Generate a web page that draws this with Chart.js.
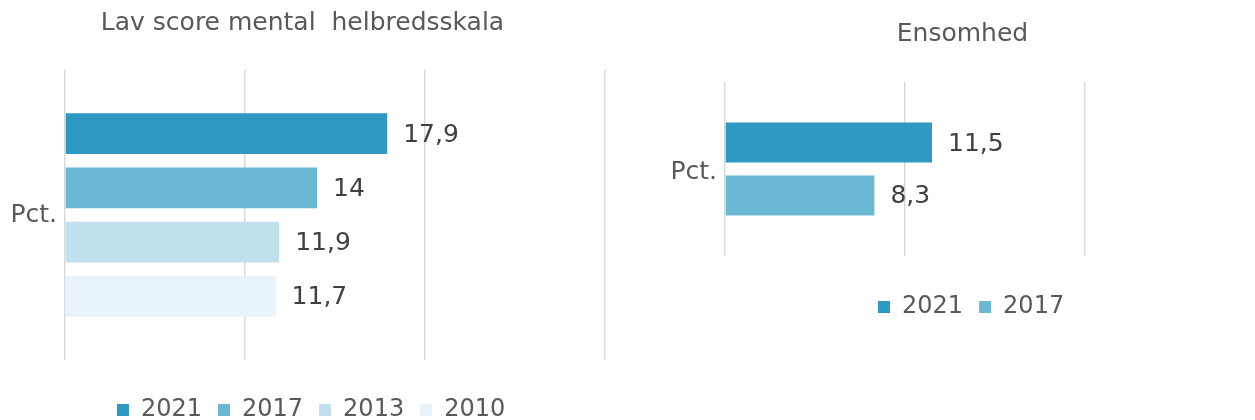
<!DOCTYPE html>
<html>
<head>
<meta charset="utf-8">
<script src="https://cdn.jsdelivr.net/npm/chart.js@4.4.1/dist/chart.umd.min.js"></script>
<style>
html, body { margin: 0; padding: 0; background: #fff; overflow: hidden; width: 1255px; height: 420px; position: relative; }
canvas { position: absolute; top: 0; }
</style>
</head>
<body>
<canvas id="mental" width="607" height="432" style="left:0px"></canvas>
<canvas id="lonely" width="645" height="329" style="left:610px"></canvas>
<script>
// ---- data ----
const categories = ['Pct.'];
const mentalTitle = 'Lav score mental  helbredsskala';
const mentalYears = ['2021', '2017', '2013', '2010'];
const mentalValues = [17.9, 14, 11.9, 11.7];
const lonelyTitle = 'Ensomhed';
const lonelyYears = ['2021', '2017'];
const lonelyValues = [11.5, 8.3];
const mentalAxisMax = 30;
const lonelyAxisMax = 20;
const axisStep = 10;

// ---- style ----
const yearColors = ['#2E9AC4', '#6BB8D4', '#C1E0EE', '#E8F4F9'];
Chart.defaults.font.family = '"DejaVu Sans", Verdana, sans-serif';

const valueLabels = {
  id: 'valueLabels',
  afterDatasetsDraw(chart, args, o) {
    const ctx = chart.ctx;
    ctx.save();
    ctx.font = o.font;
    ctx.fillStyle = o.color;
    ctx.textBaseline = 'middle';
    ctx.textAlign = 'left';
    chart.data.datasets.forEach((ds, i) => {
      chart.getDatasetMeta(i).data.forEach((el, j) => {
        ctx.fillText(String(ds.data[j]).replace('.', ','), el.x + o.offset, el.y + o.dy);
      });
    });
    ctx.restore();
  }
};

const shiftBoxes = {
  id: 'shiftBoxes',
  afterLayout(chart, args, o) {
    if (chart.titleBlock) { chart.titleBlock.left += o.title; chart.titleBlock.right += o.title; }
    if (chart.legend) { chart.legend.left += o.legend; chart.legend.right += o.legend; }
  }
};

function makeChart(id, title, years, values, max, o) {
  return new Chart(document.getElementById(id), {
    type: 'bar',
    data: {
      labels: categories,
      datasets: years.map((y, i) => ({
        label: y,
        data: [values[i]],
        backgroundColor: yearColors[i],
        borderWidth: 0,
        categoryPercentage: o.cp,
        barPercentage: o.bp
      }))
    },
    options: {
      indexAxis: 'y',
      responsive: false,
      animation: false,
      events: [],
      layout: { padding: { left: 0, right: o.padRight, top: 0, bottom: 0 } },
      scales: {
        x: {
          min: 0, max: max,
          ticks: { display: false, stepSize: axisStep },
          grid: { color: '#d9d9d9', lineWidth: 1.5, drawTicks: false },
          border: { display: false },
          afterFit: s => { s.height = o.xGap; }
        },
        y: {
          grid: { display: false, drawTicks: false },
          border: { display: false },
          ticks: { color: '#595959', font: { size: 25 }, padding: 8, labelOffset: o.pctOffset },
          afterFit: s => { s.width = o.yWidth; }
        }
      },
      plugins: {
        title: {
          display: true, text: title, color: '#595959',
          font: { size: 25, weight: 'normal' },
          padding: { top: o.titleTop, bottom: o.titleBottom }
        },
        legend: {
          display: true, position: 'bottom',
          labels: { boxWidth: 12, boxHeight: 12, padding: 16, color: '#595959', font: { size: 24 } }
        },
        tooltip: { enabled: false },
        valueLabels: { font: '25px "DejaVu Sans"', color: '#404040', offset: 16, dy: 1.5 },
        shiftBoxes: { title: o.titleShift, legend: o.legendShift }
      }
    },
    plugins: [valueLabels, shiftBoxes]
  });
}

makeChart('mental', mentalTitle, mentalYears, mentalValues, mentalAxisMax, {
  cp: 0.748, bp: 0.75, padRight: 2, yWidth: 65, xGap: 22, pctOffset: 0,
  titleTop: 8, titleBottom: 32, titleShift: 0, legendShift: 8.6
});
makeChart('lonely', lonelyTitle, lonelyYears, lonelyValues, lonelyAxisMax, {
  cp: 0.609, bp: 0.755, padRight: 170, yWidth: 115, xGap: 23, pctOffset: 3,
  titleTop: 19.5, titleBottom: 32.5, titleShift: 115, legendShift: 123.6
});
</script>
</body>
</html>
